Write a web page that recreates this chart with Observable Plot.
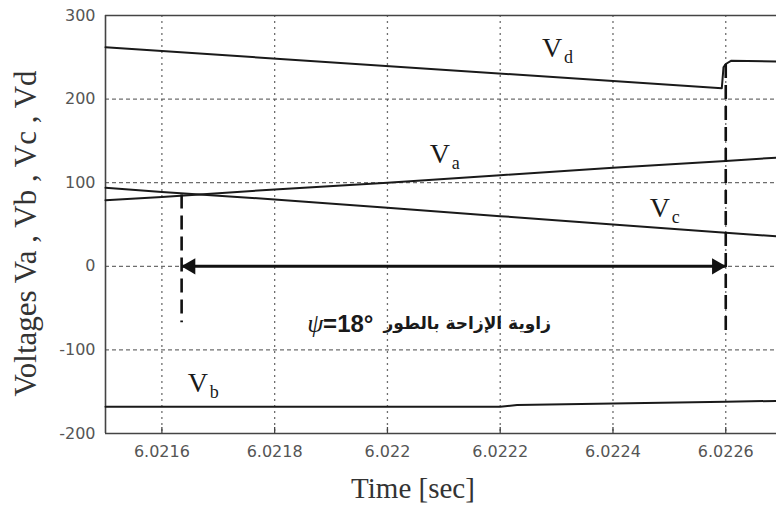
<!DOCTYPE html>
<html>
<head>
<meta charset="utf-8">
<script src="https://cdn.jsdelivr.net/npm/d3@7"></script>
<script src="https://cdn.jsdelivr.net/npm/@observablehq/plot@0.6"></script>
<style>
  body { margin: 0; background: #fff; }
</style>
</head>
<body>
<div id="chart"></div>
<script>
// Phase voltages sampled across the window [s]
const time = [6.0215, 6.0216, 6.0218, 6.0220, 6.0222, 6.0224, 6.0226, 6.02269];
const va   = [79, 83, 92, 100, 109, 118, 126, 130];
const vc   = [94, 89, 80, 70, 60, 50, 40, 36];

// Phase b sits near its negative peak
const vbTime = [6.0215, 6.0222, 6.02223, 6.0226, 6.02269];
const vb     = [-168, -168, -166, -162, -161];

// Rectified output voltage with the commutation jump
const vdTime = [6.0215, 6.022593, 6.022596, 6.0226, 6.02261, 6.02269];
const vd     = [262, 213, 238, 242, 246, 245];

// Instants bounding the phase-shift angle, and the extent of each marker line
const shiftTime   = [6.021635, 6.0226];
const shiftTop    = [86, 242];
const shiftBottom = [-67, -78];
const shiftAngle  = "ψ";
const shiftText   = "=18°";
const shiftArabic = "زاوية الإزاحة بالطور";

// Axis ticks
const xTicks = [6.0216, 6.0218, 6.0220, 6.0222, 6.0224, 6.0226];
const xTickLabels = ["6.0216", "6.0218", "6.022", "6.0222", "6.0224", "6.0226"];
const yTicks = [-200, -100, 0, 100, 200, 300];
const yGridValues = [-100, 0, 100, 200];

// Series labels: name, subscript and anchor (time, voltage)
const seriesLabels = [
  {name: "V", sub: "d", t: 6.022274, v: 250},
  {name: "V", sub: "a", t: 6.022075, v: 124},
  {name: "V", sub: "c", t: 6.022465, v: 59},
  {name: "V", sub: "b", t: 6.021646, v: -150}
];

const xDomain = [6.0215, 6.02269];
const yDomain = [-200, 300];

const phaseRows = time.map((t, i) => ({t, va: va[i], vc: vc[i]}));
const vbRows = vbTime.map((t, i) => ({t, v: vb[i]}));
const vdRows = vdTime.map((t, i) => ({t, v: vd[i]}));
const shiftRows = shiftTime.map((t, i) => ({t, top: shiftTop[i], bottom: shiftBottom[i]}));
const spanRows = [{from: shiftTime[0], to: shiftTime[1], level: 0}];
const xLabelOf = new Map(xTicks.map((d, i) => [d, xTickLabels[i]]));

const serif = "'Liberation Serif', 'Times New Roman', serif";
const sans = "'Liberation Sans', Arial, sans-serif";
const ink = "#1a1a1a";
const gridStroke = "#555";
const midT = 6.0220;
const annotV = -69;

const chart = Plot.plot({
  width: 776,
  height: 507,
  marginLeft: 105,
  marginRight: 0,
  marginTop: 15,
  marginBottom: 74,
  style: {fontFamily: "'DejaVu Sans', sans-serif", fontSize: "16px", background: "white", color: "#555"},
  x: {domain: xDomain},
  y: {domain: yDomain},
  marks: [
    // dotted grid
    Plot.gridX(xTicks, {stroke: gridStroke, strokeOpacity: 0.85, strokeWidth: 1.3, strokeDasharray: "2,4"}),
    Plot.gridY(yGridValues, {stroke: gridStroke, strokeOpacity: 0.85, strokeWidth: 1.3, strokeDasharray: "4,3"}),

    // axis frame (left, top, bottom)
    Plot.ruleX([xDomain[0]], {stroke: "#444", strokeWidth: 1.6}),
    Plot.ruleY(yDomain, {stroke: "#444", strokeWidth: 1.6}),

    // tick labels and inward ticks
    Plot.axisX(xTicks, {tickSize: 0, tickPadding: 12, tickFormat: (d) => xLabelOf.get(d), fill: "#555", label: null}),
    Plot.axisX(xTicks, {tickSize: 6, dy: -6, tickFormat: () => "", stroke: "#444", strokeWidth: 1.3, label: null}),
    Plot.axisY(yTicks, {tickSize: 0, tickPadding: 10, tickFormat: (d) => String(d), fill: "#555", label: null}),

    // axis titles
    Plot.text(["Voltages Va , Vb , Vc , Vd"], {frameAnchor: "left", textAnchor: "middle", lineAnchor: "middle",
      rotate: -90, dx: -79, dy: 9, fontFamily: serif, fontSize: 31, fill: "#333"}),
    Plot.text(["Time [sec]"], {frameAnchor: "bottom", textAnchor: "middle", lineAnchor: "bottom", dx: -28, dy: 64,
      fontFamily: serif, fontSize: 29, fill: "#333"}),

    // voltage curves
    Plot.line(vdRows, {x: "t", y: "v", stroke: ink, strokeWidth: 2}),
    Plot.line(phaseRows, {x: "t", y: "va", stroke: ink, strokeWidth: 2}),
    Plot.line(phaseRows, {x: "t", y: "vc", stroke: ink, strokeWidth: 2}),
    Plot.line(vbRows, {x: "t", y: "v", stroke: ink, strokeWidth: 2}),

    // phase-shift markers
    Plot.link(shiftRows, {x1: "t", x2: "t", y1: "top", y2: "bottom", stroke: "#111", strokeWidth: 2.6, strokeDasharray: "14,7"}),
    Plot.link(spanRows, {x1: "from", x2: "to", y1: "level", y2: "level", stroke: "#111", strokeWidth: 3}),
    Plot.dot(spanRows, {x: "from", y: "level", symbol: "triangle", r: 6, rotate: -90, dx: 9, fill: "#111", stroke: "none"}),
    Plot.dot(spanRows, {x: "to", y: "level", symbol: "triangle", r: 6, rotate: 90, dx: -9, fill: "#111", stroke: "none"}),

    // phase-shift annotation
    Plot.text([shiftAngle], {x: () => midT, y: () => annotV, textAnchor: "end", dx: -64,
      fontFamily: serif, fontStyle: "italic", fontSize: 26, fill: ink}),
    Plot.text([shiftText], {x: () => midT, y: () => annotV, textAnchor: "end", dx: -14,
      fontFamily: sans, fontWeight: "bold", fontSize: 24, fill: ink}),
    Plot.text([shiftArabic], {x: () => midT, y: () => annotV, textAnchor: "start", dx: -4,
      fontFamily: "'DejaVu Sans', sans-serif", fontWeight: "bold", fontSize: 17, fill: ink}),

    // series labels
    Plot.text(seriesLabels, {x: "t", y: "v", text: "name", textAnchor: "start", lineAnchor: "bottom",
      fontFamily: serif, fontSize: 28, fill: ink}),
    Plot.text(seriesLabels, {x: "t", y: "v", text: "sub", textAnchor: "start", lineAnchor: "bottom", dx: 22, dy: 6,
      fontFamily: serif, fontSize: 18, fill: ink})
  ]
});

document.getElementById("chart").appendChild(chart);
</script>
</body>
</html>
